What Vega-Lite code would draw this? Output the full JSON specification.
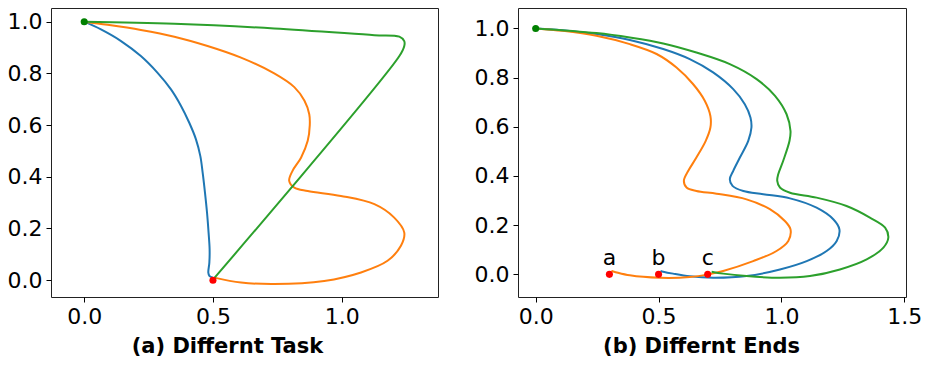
{
  "$schema": "https://vega.github.io/schema/vega-lite/v6.json",
  "background": "white",
  "padding": {"left": 6, "top": 7, "right": 5, "bottom": 5},
  "spacing": 34,
  "config": {
    "view": {"stroke": "#222", "strokeWidth": 1},
    "font": "DejaVu Sans",
    "axis": {
      "grid": false, "domain": false, "tickColor": "black", "tickSize": 5, "tickWidth": 1,
      "labelFontSize": 22, "labelColor": "black", "labelPadding": 4, "labelFont": "DejaVu Sans",
      "titleFont": "DejaVu Sans", "titleFontSize": 21, "titleFontWeight": "bold", "titleColor": "black"
    }
  },
  "datasets": {
    "A": [
      {"s": "s1", "i": 0, "x": 0, "y": 1},
      {"s": "s1", "i": 1, "x": 0.065, "y": 0.97},
      {"s": "s1", "i": 2, "x": 0.143, "y": 0.925},
      {"s": "s1", "i": 3, "x": 0.22, "y": 0.867},
      {"s": "s1", "i": 4, "x": 0.285, "y": 0.802},
      {"s": "s1", "i": 5, "x": 0.337, "y": 0.738},
      {"s": "s1", "i": 6, "x": 0.376, "y": 0.674},
      {"s": "s1", "i": 7, "x": 0.408, "y": 0.609},
      {"s": "s1", "i": 8, "x": 0.434, "y": 0.545},
      {"s": "s1", "i": 9, "x": 0.451, "y": 0.48},
      {"s": "s1", "i": 10, "x": 0.46, "y": 0.416},
      {"s": "s1", "i": 11, "x": 0.469, "y": 0.339},
      {"s": "s1", "i": 12, "x": 0.477, "y": 0.261},
      {"s": "s1", "i": 13, "x": 0.483, "y": 0.184},
      {"s": "s1", "i": 14, "x": 0.487, "y": 0.12},
      {"s": "s1", "i": 15, "x": 0.486, "y": 0.068},
      {"s": "s1", "i": 16, "x": 0.482, "y": 0.029},
      {"s": "s1", "i": 17, "x": 0.486, "y": 0.017},
      {"s": "s1", "i": 18, "x": 0.499, "y": 0.01},
      {"s": "s2", "i": 0, "x": 0, "y": 1},
      {"s": "s2", "i": 1, "x": 0.091, "y": 0.988},
      {"s": "s2", "i": 2, "x": 0.22, "y": 0.968},
      {"s": "s2", "i": 3, "x": 0.35, "y": 0.942},
      {"s": "s2", "i": 4, "x": 0.479, "y": 0.906},
      {"s": "s2", "i": 5, "x": 0.609, "y": 0.861},
      {"s": "s2", "i": 6, "x": 0.738, "y": 0.8},
      {"s": "s2", "i": 7, "x": 0.816, "y": 0.747},
      {"s": "s2", "i": 8, "x": 0.855, "y": 0.695},
      {"s": "s2", "i": 9, "x": 0.874, "y": 0.642},
      {"s": "s2", "i": 10, "x": 0.876, "y": 0.6},
      {"s": "s2", "i": 11, "x": 0.868, "y": 0.539},
      {"s": "s2", "i": 12, "x": 0.842, "y": 0.474},
      {"s": "s2", "i": 13, "x": 0.809, "y": 0.423},
      {"s": "s2", "i": 14, "x": 0.796, "y": 0.384},
      {"s": "s2", "i": 15, "x": 0.816, "y": 0.358},
      {"s": "s2", "i": 16, "x": 0.868, "y": 0.345},
      {"s": "s2", "i": 17, "x": 0.997, "y": 0.326},
      {"s": "s2", "i": 18, "x": 1.127, "y": 0.294},
      {"s": "s2", "i": 19, "x": 1.204, "y": 0.242},
      {"s": "s2", "i": 20, "x": 1.243, "y": 0.184},
      {"s": "s2", "i": 21, "x": 1.23, "y": 0.133},
      {"s": "s2", "i": 22, "x": 1.178, "y": 0.075},
      {"s": "s2", "i": 23, "x": 1.075, "y": 0.03},
      {"s": "s2", "i": 24, "x": 0.932, "y": -0.003},
      {"s": "s2", "i": 25, "x": 0.738, "y": -0.015},
      {"s": "s2", "i": 26, "x": 0.609, "y": -0.009},
      {"s": "s2", "i": 27, "x": 0.505, "y": 0.01},
      {"s": "s3", "i": 0, "x": 0, "y": 1},
      {"s": "s3", "i": 1, "x": 0.35, "y": 0.992},
      {"s": "s3", "i": 2, "x": 0.738, "y": 0.974},
      {"s": "s3", "i": 3, "x": 1.127, "y": 0.948},
      {"s": "s3", "i": 4, "x": 1.224, "y": 0.942},
      {"s": "s3", "i": 5, "x": 1.243, "y": 0.925},
      {"s": "s3", "i": 6, "x": 1.243, "y": 0.906},
      {"s": "s3", "i": 7, "x": 1.224, "y": 0.867},
      {"s": "s3", "i": 8, "x": 0.505, "y": 0.008}
    ],
    "B": [
      {"s": "s1", "i": 0, "x": 0, "y": 1},
      {"s": "s1", "i": 1, "x": 0.12, "y": 0.992},
      {"s": "s1", "i": 2, "x": 0.247, "y": 0.977},
      {"s": "s1", "i": 3, "x": 0.383, "y": 0.953},
      {"s": "s1", "i": 4, "x": 0.519, "y": 0.916},
      {"s": "s1", "i": 5, "x": 0.627, "y": 0.875},
      {"s": "s1", "i": 6, "x": 0.722, "y": 0.821},
      {"s": "s1", "i": 7, "x": 0.804, "y": 0.753},
      {"s": "s1", "i": 8, "x": 0.851, "y": 0.692},
      {"s": "s1", "i": 9, "x": 0.874, "y": 0.638},
      {"s": "s1", "i": 10, "x": 0.878, "y": 0.597},
      {"s": "s1", "i": 11, "x": 0.865, "y": 0.543},
      {"s": "s1", "i": 12, "x": 0.831, "y": 0.475},
      {"s": "s1", "i": 13, "x": 0.804, "y": 0.421},
      {"s": "s1", "i": 14, "x": 0.79, "y": 0.387},
      {"s": "s1", "i": 15, "x": 0.801, "y": 0.36},
      {"s": "s1", "i": 16, "x": 0.845, "y": 0.339},
      {"s": "s1", "i": 17, "x": 0.926, "y": 0.326},
      {"s": "s1", "i": 18, "x": 1.035, "y": 0.309},
      {"s": "s1", "i": 19, "x": 1.143, "y": 0.271},
      {"s": "s1", "i": 20, "x": 1.211, "y": 0.224},
      {"s": "s1", "i": 21, "x": 1.236, "y": 0.183},
      {"s": "s1", "i": 22, "x": 1.225, "y": 0.136},
      {"s": "s1", "i": 23, "x": 1.184, "y": 0.095},
      {"s": "s1", "i": 24, "x": 1.103, "y": 0.054},
      {"s": "s1", "i": 25, "x": 0.994, "y": 0.02},
      {"s": "s1", "i": 26, "x": 0.858, "y": -0.007},
      {"s": "s1", "i": 27, "x": 0.722, "y": -0.014},
      {"s": "s1", "i": 28, "x": 0.627, "y": -0.008},
      {"s": "s1", "i": 29, "x": 0.559, "y": 0.003},
      {"s": "s1", "i": 30, "x": 0.519, "y": 0.011},
      {"s": "s1", "i": 31, "x": 0.508, "y": 0.014},
      {"s": "s2", "i": 0, "x": 0, "y": 1},
      {"s": "s2", "i": 1, "x": 0.111, "y": 0.99},
      {"s": "s2", "i": 2, "x": 0.247, "y": 0.97},
      {"s": "s2", "i": 3, "x": 0.383, "y": 0.936},
      {"s": "s2", "i": 4, "x": 0.492, "y": 0.896},
      {"s": "s2", "i": 5, "x": 0.573, "y": 0.841},
      {"s": "s2", "i": 6, "x": 0.641, "y": 0.773},
      {"s": "s2", "i": 7, "x": 0.688, "y": 0.706},
      {"s": "s2", "i": 8, "x": 0.711, "y": 0.644},
      {"s": "s2", "i": 9, "x": 0.711, "y": 0.597},
      {"s": "s2", "i": 10, "x": 0.692, "y": 0.543},
      {"s": "s2", "i": 11, "x": 0.654, "y": 0.475},
      {"s": "s2", "i": 12, "x": 0.621, "y": 0.421},
      {"s": "s2", "i": 13, "x": 0.603, "y": 0.38},
      {"s": "s2", "i": 14, "x": 0.614, "y": 0.353},
      {"s": "s2", "i": 15, "x": 0.654, "y": 0.339},
      {"s": "s2", "i": 16, "x": 0.736, "y": 0.328},
      {"s": "s2", "i": 17, "x": 0.858, "y": 0.305},
      {"s": "s2", "i": 18, "x": 0.953, "y": 0.265},
      {"s": "s2", "i": 19, "x": 1.014, "y": 0.217},
      {"s": "s2", "i": 20, "x": 1.037, "y": 0.183},
      {"s": "s2", "i": 21, "x": 1.028, "y": 0.136},
      {"s": "s2", "i": 22, "x": 0.98, "y": 0.095},
      {"s": "s2", "i": 23, "x": 0.885, "y": 0.054},
      {"s": "s2", "i": 24, "x": 0.763, "y": 0.014},
      {"s": "s2", "i": 25, "x": 0.702, "y": 0.0},
      {"s": "s2", "i": 26, "x": 0.627, "y": -0.011},
      {"s": "s2", "i": 27, "x": 0.505, "y": -0.014},
      {"s": "s2", "i": 28, "x": 0.383, "y": -0.004},
      {"s": "s2", "i": 29, "x": 0.308, "y": 0.014},
      {"s": "s3", "i": 0, "x": 0, "y": 1},
      {"s": "s3", "i": 1, "x": 0.247, "y": 0.981},
      {"s": "s3", "i": 2, "x": 0.383, "y": 0.963},
      {"s": "s3", "i": 3, "x": 0.519, "y": 0.939},
      {"s": "s3", "i": 4, "x": 0.654, "y": 0.902},
      {"s": "s3", "i": 5, "x": 0.79, "y": 0.855},
      {"s": "s3", "i": 6, "x": 0.899, "y": 0.794},
      {"s": "s3", "i": 7, "x": 0.974, "y": 0.726},
      {"s": "s3", "i": 8, "x": 1.021, "y": 0.651},
      {"s": "s3", "i": 9, "x": 1.037, "y": 0.583},
      {"s": "s3", "i": 10, "x": 1.033, "y": 0.543},
      {"s": "s3", "i": 11, "x": 1.007, "y": 0.461},
      {"s": "s3", "i": 12, "x": 0.987, "y": 0.407},
      {"s": "s3", "i": 13, "x": 0.983, "y": 0.38},
      {"s": "s3", "i": 14, "x": 0.994, "y": 0.353},
      {"s": "s3", "i": 15, "x": 1.035, "y": 0.332},
      {"s": "s3", "i": 16, "x": 1.143, "y": 0.312},
      {"s": "s3", "i": 17, "x": 1.265, "y": 0.278},
      {"s": "s3", "i": 18, "x": 1.36, "y": 0.231},
      {"s": "s3", "i": 19, "x": 1.422, "y": 0.19},
      {"s": "s3", "i": 20, "x": 1.435, "y": 0.149},
      {"s": "s3", "i": 21, "x": 1.415, "y": 0.109},
      {"s": "s3", "i": 22, "x": 1.347, "y": 0.061},
      {"s": "s3", "i": 23, "x": 1.238, "y": 0.02},
      {"s": "s3", "i": 24, "x": 1.116, "y": -0.007},
      {"s": "s3", "i": 25, "x": 0.994, "y": -0.014},
      {"s": "s3", "i": 26, "x": 0.858, "y": -0.007},
      {"s": "s3", "i": 27, "x": 0.763, "y": 0.003},
      {"s": "s3", "i": 28, "x": 0.716, "y": 0.011}
    ],
    "PA": [
      {"c": "g", "x": 0, "y": 1, "label": ""},
      {"c": "r", "x": 0.5, "y": 0, "label": ""}
    ],
    "PB": [
      {"c": "g", "x": 0, "y": 1, "label": ""},
      {"c": "r", "x": 0.3, "y": 0, "label": "a"},
      {"c": "r", "x": 0.5, "y": 0, "label": "b"},
      {"c": "r", "x": 0.7, "y": 0, "label": "c"}
    ]
  },
  "hconcat": [
    {
      "width": 387, "height": 289,
      "layer": [
        {
          "data": {"name": "A"},
          "mark": {"type": "line", "strokeWidth": 2, "interpolate": "catmull-rom"},
          "encoding": {
            "x": {"field": "x", "type": "quantitative", "scale": {"domain": [-0.129, 1.374], "nice": false, "zero": false},
                  "axis": {"values": [0, 0.5, 1.0], "format": ".1f", "title": "(a) Differnt Task", "titleX": 176, "titleY": 55, "titleBaseline": "alphabetic", "titleAnchor": null, "titleAlign": "center"}},
            "y": {"field": "y", "type": "quantitative", "scale": {"domain": [-0.065, 1.053], "nice": false, "zero": false},
                  "axis": {"values": [0, 0.2, 0.4, 0.6, 0.8, 1.0], "format": ".1f", "title": null}},
            "color": {"field": "s", "type": "nominal", "scale": {"domain": ["s1", "s2", "s3"], "range": ["#1f77b4", "#ff7f0e", "#2ca02c"]}, "legend": null},
            "order": {"field": "i", "type": "quantitative"}
          }
        },
        {
          "data": {"name": "PA"},
          "transform": [{"filter": "datum.c == 'g'"}],
          "mark": {"type": "point", "filled": true, "size": 50, "color": "green", "opacity": 1},
          "encoding": {"x": {"field": "x", "type": "quantitative"}, "y": {"field": "y", "type": "quantitative"}}
        },
        {
          "data": {"name": "PA"},
          "transform": [{"filter": "datum.c == 'r'"}],
          "mark": {"type": "point", "filled": true, "size": 50, "color": "red", "opacity": 1},
          "encoding": {"x": {"field": "x", "type": "quantitative"}, "y": {"field": "y", "type": "quantitative"}}
        }
      ]
    },
    {
      "width": 388, "height": 289,
      "layer": [
        {
          "data": {"name": "B"},
          "mark": {"type": "line", "strokeWidth": 2, "interpolate": "catmull-rom"},
          "encoding": {
            "x": {"field": "x", "type": "quantitative", "scale": {"domain": [-0.072, 1.507], "nice": false, "zero": false},
                  "axis": {"values": [0, 0.5, 1.0, 1.5], "format": ".1f", "title": "(b) Differnt Ends", "titleX": 183, "titleY": 55, "titleBaseline": "alphabetic", "titleAnchor": null, "titleAlign": "center"}},
            "y": {"field": "y", "type": "quantitative", "scale": {"domain": [-0.092, 1.083], "nice": false, "zero": false},
                  "axis": {"values": [0, 0.2, 0.4, 0.6, 0.8, 1.0], "format": ".1f", "title": null}},
            "color": {"field": "s", "type": "nominal", "scale": {"domain": ["s1", "s2", "s3"], "range": ["#1f77b4", "#ff7f0e", "#2ca02c"]}, "legend": null},
            "order": {"field": "i", "type": "quantitative"}
          }
        },
        {
          "data": {"name": "PB"},
          "transform": [{"filter": "datum.c == 'g'"}],
          "mark": {"type": "point", "filled": true, "size": 50, "color": "green", "opacity": 1},
          "encoding": {"x": {"field": "x", "type": "quantitative"}, "y": {"field": "y", "type": "quantitative"}}
        },
        {
          "data": {"name": "PB"},
          "transform": [{"filter": "datum.c == 'r'"}],
          "mark": {"type": "point", "filled": true, "size": 50, "color": "red", "opacity": 1},
          "encoding": {"x": {"field": "x", "type": "quantitative"}, "y": {"field": "y", "type": "quantitative"}}
        },
        {
          "data": {"name": "PB"},
          "transform": [{"filter": "datum.c == 'r'"}],
          "mark": {"type": "text", "fontSize": 22, "dy": -9, "baseline": "alphabetic", "align": "center", "color": "black", "font": "DejaVu Sans"},
          "encoding": {"x": {"field": "x", "type": "quantitative"}, "y": {"field": "y", "type": "quantitative"}, "text": {"field": "label"}}
        }
      ]
    }
  ]
}
